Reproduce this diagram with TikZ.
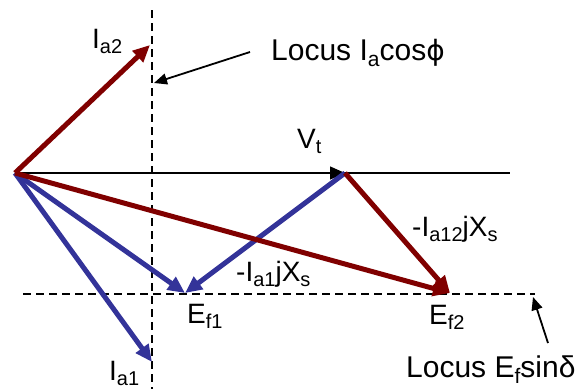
\documentclass[tikz,border=0pt]{standalone}
\usepackage{fontspec}
\setmainfont{Liberation Sans}
\newfontfamily\dvs{DejaVu Sans}
\usetikzlibrary{arrows.meta}
\definecolor{vred}{RGB}{128,0,0}
\definecolor{vblue}{RGB}{51,51,153}
\newcommand\sbs[1]{\raisebox{-0.4ex}{\fontsize{20}{20}\selectfont #1}}
\newcommand\sbl[1]{\raisebox{-0.4ex}{\fontsize{21}{21}\selectfont #1}}
\tikzset{
  phasor/.style={line width=5pt,-{Triangle[length=17pt,width=15pt]}},
  redvec/.style={phasor,draw=vred},
  bluevec/.style={phasor,draw=vblue},
  locusline/.style={black,line width=1.4pt,dash pattern=on 8pt off 5pt},
  pointer/.style={black,line width=1.8pt,-{Triangle[length=13pt,width=11pt]}},
  lbl/.style={inner sep=0pt,anchor=base west,font=\fontsize{28}{32}\selectfont},
  lcs/.style={inner sep=0pt,anchor=base west,font=\fontsize{30}{34}\selectfont}
}
\begin{document}
\begin{tikzpicture}[x=1pt,y=-1pt]
\useasboundingbox (0,0) rectangle (587,389);
% points
\coordinate (O) at (15,173);
\coordinate (Vt) at (345,173);
\coordinate (Vend) at (510,173);
\coordinate (Ia2) at (150,45);
\coordinate (Ia1) at (152,362);
\coordinate (Ef1) at (185,293);
\coordinate (Ef2) at (450,293);
\coordinate (vtop) at (152,10);
\coordinate (vbot) at (152,389);
\coordinate (hl) at (23,294);
\coordinate (hr) at (535,294);
\coordinate (p1s) at (250,52);
\coordinate (p1e) at (154,83);
\coordinate (p2s) at (548,343);
\coordinate (p2e) at (533,297);
% locus lines
\draw[locusline] (vtop) -- (vbot);
\draw[locusline] (hl) -- (hr);
% terminal voltage
\draw[black,line width=1.4pt] (O) -- (Vend);
\draw[black,line width=1.4pt,-{Triangle[length=15pt,width=13pt]}] (O) -- (Vt);
% blue phasors
\draw[bluevec] (O) -- (Ia1);
\draw[bluevec] (O) -- (Ef1);
\draw[bluevec] (Vt) -- (Ef1);
% red phasors
\draw[redvec] (O) -- (Ia2);
\draw[redvec] (O) -- (Ef2);
\draw[redvec] (Vt) -- (Ef2);
% pointers
\draw[pointer] (p1s) -- (p1e);
\draw[pointer] (p2s) -- (p2e);
% labels
\node[lbl] (lIa2) at (92,48) {I\sbs{a2}};
\node[lcs] (lLocI) at (271,60) {Locus I\sbl{a}cos{\dvs\fontsize{28}{32}\selectfont ϕ}};
\node[lbl] (lVt) at (297,148) {V\sbs{t}};
\node[lbl] (lIa12) at (412,236) {-I\sbs{a12}jX\sbs{s}};
\node[lbl] (lIa1jx) at (236,281) {-I\sbs{a1}jX\sbs{s}};
\node[lbl] (lEf1) at (187,323) {E\sbs{f1}};
\node[lbl] (lEf2) at (429,324) {E\sbs{f2}};
\node[lbl] (lIa1) at (109,380) {I\sbs{a1}};
\node[lcs] (lLocE) at (406,377) {Locus E\sbl{f}sinδ};
\end{tikzpicture}
\end{document}
